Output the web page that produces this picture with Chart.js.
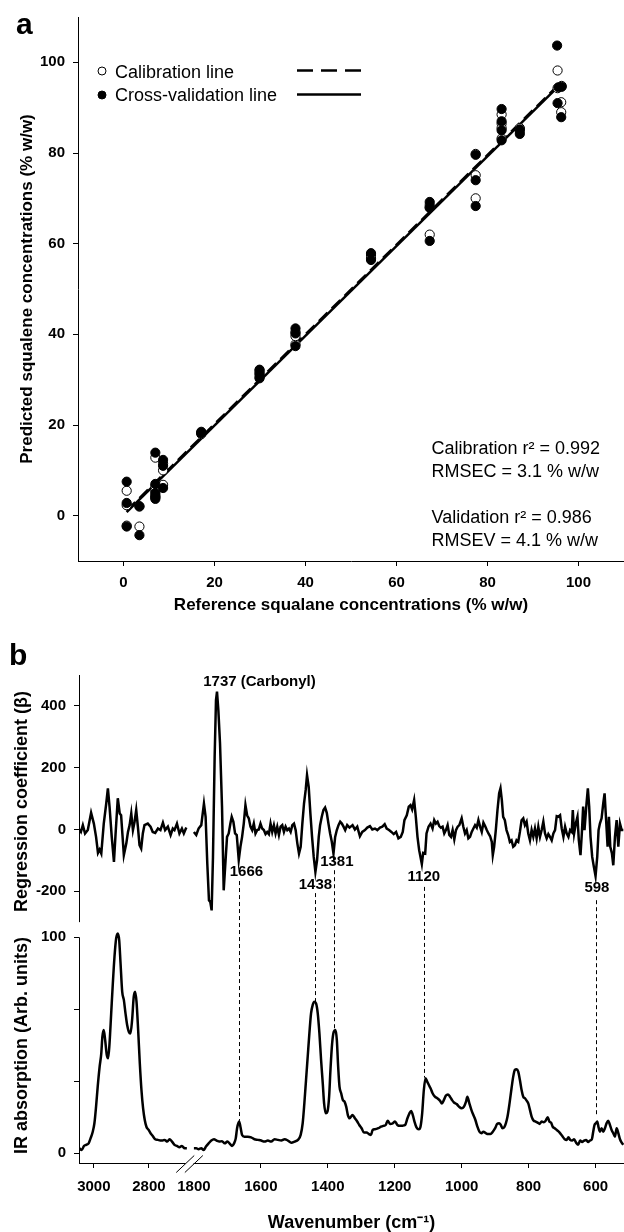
<!DOCTYPE html>
<html>
<head>
<meta charset="utf-8">
<title>Squalene calibration and regression coefficients</title>
<script src="https://cdn.jsdelivr.net/npm/chart.js@4.4.1/dist/chart.umd.min.js"></script>
<style>
  body { margin: 0; background: #fff; }
  canvas { display: block; }
</style>
</head>
<body>
<canvas id="fitChart" width="624" height="630"></canvas>
<canvas id="specChart" width="624" height="602"></canvas>
<script>
// ---- panel a: predicted vs reference squalene (% w/w) ----
const calX = [0.7, 0.7, 0.7, 3.5, 3.5, 7.0, 7.0, 7.0, 7.0, 7.0, 8.7, 8.7, 8.7, 17.1, 17.1, 29.9, 29.9, 29.9, 37.8, 37.8,
              37.8, 54.4, 54.4, 67.3, 67.3, 67.3, 77.4, 77.4, 77.4, 83.1, 83.1, 83.1, 83.1, 87.1, 87.1, 95.4, 96.3, 96.2, 96.2, 95.4];
const calY = [5.5, 2.3, -2.2, -2.4, 2.0, 12.8, 6.5, 5.5, 4.5, 4.0, 11.5, 10.0, 6.8, 18.0, 18.3, 31.5, 30.6, 32.0, 40.5, 37.8,
              39.6, 57.5, 56.8, 68.5, 62.0, 68.0, 79.8, 75.1, 70.0, 88.5, 86.5, 85.5, 83.2, 85.5, 84.8, 98.2, 94.8, 91.2, 89.0, 94.3];
const cvX = [0.7, 0.7, 0.7, 3.5, 3.5, 7.0, 7.0, 7.0, 7.0, 7.0, 8.7, 8.7, 8.7, 17.1, 17.1, 29.9, 29.9, 29.9, 37.8, 37.8,
             37.8, 54.4, 54.4, 67.3, 67.3, 67.3, 77.4, 77.4, 77.4, 83.1, 83.1, 83.1, 83.1, 87.1, 87.1, 95.3, 96.3, 95.4, 96.2, 95.6];
const cvY = [7.5, 2.8, -2.4, -4.3, 2.1, 13.9, 7.0, 5.0, 4.2, 3.7, 12.3, 11.0, 6.1, 18.2, 18.5, 32.2, 30.3, 31.2, 41.3, 37.4,
             40.2, 57.9, 56.4, 69.2, 60.6, 67.9, 79.6, 74.0, 68.3, 89.7, 87.0, 85.0, 82.8, 85.2, 84.2, 103.7, 94.6, 91.0, 87.9, 94.5];
const calLineX = [0.7, 95.8];
const calLineY = [1.1, 95.2];
const cvLineX = [0.7, 95.8];
const cvLineY = [0.8, 94.9];
const fitTicks = [0, 20, 40, 60, 80, 100];
const statText = ['Calibration r\u00B2 = 0.992', 'RMSEC = 3.1 % w/w', 'Validation r\u00B2 = 0.986', 'RMSEV = 4.1 % w/w'];
const statBase = [13.6, 8.6, -1.7, -6.8];   // baselines, in y units

// ---- panel b: regression coefficient (top) and IR spectrum (bottom) ----
const coefLeftWn = [3053, 3047, 3040, 3032, 3022, 3010, 3000, 2992, 2985, 2979,
                    2973, 2964, 2955, 2949, 2943, 2935, 2927, 2921, 2913, 2906,
                    2901, 2891, 2882, 2876, 2870, 2864, 2858, 2852, 2846, 2840,
                    2834, 2828, 2822, 2816, 2804, 2794, 2786, 2777, 2767, 2758,
                    2749, 2741, 2731, 2721, 2713, 2707, 2698, 2689, 2680, 2673, 2664];
const coefLeft = [0, -8, 14, -13, -2, 54, 19, -24, -76, -65,
                  -78, 19, 84, 133, 74, -24, -105, -13, 101, 52,
                  46, -83, -45, -8, 14, 52, -2, 25, 63, 9,
                  -51, -62, -13, 14, 19, 9, -8, -11, 3, -2,
                  22, -2, 9, -18, 3, -2, 19, -13, 3, -13, 6];
const coefRightWn = [1800, 1793, 1786, 1778, 1770, 1765, 1760, 1755, 1751, 1747,
                     1743, 1738, 1734, 1731, 1727, 1722, 1716, 1711, 1706, 1701,
                     1696, 1691, 1687, 1682, 1677, 1672, 1666, 1661, 1656, 1651,
                     1646, 1641, 1636, 1631, 1626, 1621, 1616, 1611, 1606, 1601,
                     1596, 1591, 1586, 1581, 1576, 1571, 1566, 1561, 1556, 1551,
                     1546, 1541, 1536, 1531, 1526, 1521, 1516, 1511, 1506, 1501,
                     1496, 1491, 1486, 1481, 1476, 1471, 1466, 1462, 1457, 1452,
                     1447, 1442, 1437, 1432, 1427, 1423, 1418, 1413, 1408, 1403,
                     1398, 1393, 1388, 1383, 1378, 1373, 1368, 1363, 1358, 1353,
                     1348, 1342, 1335, 1326, 1319, 1312, 1304, 1297, 1289, 1282,
                     1274, 1267, 1259, 1252, 1244, 1237, 1230, 1224, 1217, 1210,
                     1203, 1196, 1189, 1182, 1176, 1171, 1164, 1158, 1153, 1148,
                     1142, 1137, 1132, 1127, 1123, 1119, 1115, 1109, 1105, 1099,
                     1093, 1087, 1082, 1077, 1072, 1067, 1062, 1057, 1052, 1047,
                     1042, 1037, 1032, 1027, 1022, 1017, 1012, 1007, 1000, 995,
                     990, 985, 980, 975, 970, 965, 960, 955, 950, 945,
                     940, 935, 930, 925, 920, 915, 910, 907, 903, 898,
                     893, 888, 884, 880, 876, 871, 866, 861, 856, 851,
                     846, 841, 836, 831, 826, 821, 816, 811, 806, 801,
                     796, 791, 786, 781, 776, 771, 766, 761, 756, 751,
                     746, 741, 736, 731, 726, 721, 716, 711, 706, 701,
                     696, 691, 686, 681, 676, 671, 668, 664, 659, 654,
                     650, 645, 641, 637, 633, 627, 623, 619, 615, 610,
                     605, 600, 595, 591, 587, 582, 577, 573, 569, 564,
                     560, 556, 551, 547, 542, 537, 532, 527, 522, 517];
const coefRight = [-8, -18, 3, 14, 84, 41, -110, -229, -235, -262,
                   -89, 236, 419, 446, 387, 279, 74, -197, -110, -24,
                   -13, 19, 41, 25, -13, -18, -99, -56, -24, 19,
                   79, 46, 36, 9, -2, 19, -13, -2, 0, 19,
                   3, -2, -15, -8, -15, 19, -8, 14, -13, 9,
                   -18, 9, 14, -8, 9, -2, 3, -8, 14, 19,
                   -2, -45, -78, -56, 19, 84, 128, 176, 138, 52,
                   -24, -89, -137, -99, -24, 14, 41, 63, 71, 54,
                   19, -13, -40, -78, -24, -2, 14, 25, 19, 9,
                   -2, 14, 6, 14, 0, 9, -22, -8, -2, 6,
                   11, 0, 3, -2, 6, 9, 17, 3, -2, -8,
                   -15, -8, -29, -24, -8, 30, 46, 74, 79, 65,
                   95, 41, -24, -67, -89, -112, -76, -78, -13, 9,
                   19, 3, 30, 19, 25, 11, 6, 9, -13, -2,
                   14, -18, -24, -2, -32, -2, 9, 14, 36, 9,
                   -13, -2, -29, -24, -8, 3, 14, 6, 30, 9,
                   -8, 22, 11, -2, -13, -22, -40, -83, -56, -2,
                   63, 117, 133, 95, 41, 30, -2, -18, -40, -35,
                   -56, -51, -35, -40, -8, 30, 36, 14, 25, -13,
                   -35, -2, -24, 3, -29, 9, -24, -2, 25, -13,
                   -29, -15, -24, -35, -13, -2, 43, 41, 46, 3,
                   -24, 9, -13, -24, -2, -8, 63, -13, 19, 41,
                   -35, -83, -13, 74, -2, 84, 133, 74, -24, -89,
                   -121, -151, -89, -2, 19, 36, 84, 117, 41, -56,
                   41, -56, -78, -116, -24, 30, -56, 19, -2, -2];
const irLeftWn = [3053, 3044, 3036, 3028, 3019, 3012, 3004, 2998, 2992, 2986,
                  2979, 2973, 2969, 2964, 2959, 2953, 2948, 2943, 2937, 2931,
                  2925, 2919, 2913, 2908, 2903, 2897, 2891, 2885, 2879, 2873,
                  2867, 2861, 2855, 2850, 2845, 2839, 2833, 2827, 2821, 2815,
                  2809, 2801, 2794, 2786, 2777, 2767, 2759, 2750, 2743, 2733,
                  2725, 2716, 2707, 2698, 2689, 2680, 2670, 2662];
const irLeft = [2.3, 1.5, 3.4, 3.9, 4.6, 6.9, 10.0, 13.9, 21.6, 30.9,
                40.1, 46.3, 54.0, 57.1, 52.5, 45.5, 44.0, 50.9, 64.8, 78.7,
                91.0, 99.5, 101.8, 98.8, 88.0, 74.8, 71.0, 64.8, 59.4, 56.3,
                55.5, 61.7, 72.5, 74.8, 70.2, 57.1, 41.7, 29.3, 20.8, 15.4,
                12.3, 10.8, 9.3, 8.0, 6.5, 6.2, 5.9, 5.9, 6.2, 5.4,
                6.5, 5.4, 3.9, 3.4, 2.8, 3.4, 2.3, 2.3];
const irRightWn = [1800, 1793, 1786, 1778, 1771, 1764, 1756, 1748, 1740, 1732,
                   1724, 1716, 1708, 1700, 1692, 1686, 1680, 1675, 1671, 1665,
                   1661, 1656, 1649, 1639, 1629, 1619, 1609, 1599, 1589, 1579,
                   1569, 1559, 1549, 1539, 1529, 1519, 1509, 1499, 1489, 1481,
                   1475, 1470, 1465, 1460, 1455, 1450, 1445, 1440, 1435, 1430,
                   1425, 1420, 1415, 1411, 1406, 1401, 1396, 1392, 1387, 1382,
                   1377, 1373, 1369, 1365, 1360, 1355, 1350, 1345, 1340, 1335,
                   1326, 1319, 1312, 1306, 1299, 1292, 1284, 1277, 1271, 1266,
                   1259, 1249, 1241, 1234, 1227, 1221, 1214, 1206, 1199, 1192,
                   1184, 1176, 1169, 1162, 1156, 1151, 1146, 1141, 1135, 1128,
                   1123, 1118, 1113, 1108, 1103, 1098, 1093, 1087, 1080, 1073,
                   1065, 1059, 1053, 1047, 1041, 1035, 1029, 1023, 1015, 1008,
                   1000, 993, 987, 983, 977, 971, 965, 959, 953, 947,
                   941, 935, 928, 921, 914, 907, 900, 894, 888, 883,
                   878, 873, 868, 863, 857, 851, 846, 841, 836, 831,
                   826, 821, 816, 811, 806, 801, 796, 791, 785, 779,
                   773, 767, 761, 755, 749, 743, 738, 733, 728, 722,
                   716, 710, 704, 698, 692, 686, 681, 676, 670, 664,
                   658, 652, 646, 640, 634, 628, 622, 617, 611, 607,
                   603, 599, 595, 591, 587, 582, 577, 572, 567, 562,
                   557, 552, 547, 542, 537, 532, 527, 522, 517];
const irRight = [2.3, 2.3, 1.9, 2.3, 1.5, 3.1, 4.6, 5.9, 6.5, 5.9,
                 5.4, 5.6, 4.6, 5.4, 4.3, 3.4, 4.6, 6.9, 11.6, 14.7,
                 12.3, 8.5, 7.7, 7.7, 7.4, 6.5, 6.2, 5.9, 5.4, 5.9,
                 5.4, 6.5, 6.2, 5.9, 6.5, 5.9, 4.9, 5.4, 6.2, 8.5,
                 13.9, 23.1, 33.9, 44.7, 55.5, 64.8, 68.7, 70.2, 69.4, 64.8,
                 55.5, 43.2, 32.4, 23.1, 18.5, 19.3, 26.2, 38.6, 50.9, 56.3,
                 57.1, 52.5, 40.1, 30.9, 27.8, 24.7, 23.9, 21.6, 17.7, 16.2,
                 17.7, 16.2, 14.7, 13.1, 11.6, 9.6, 9.6, 8.9, 8.5, 10.8,
                 11.1, 11.6, 12.3, 12.7, 13.1, 15.1, 13.6, 13.9, 14.7, 13.1,
                 12.7, 12.8, 13.1, 16.2, 18.5, 19.6, 17.7, 14.7, 12.0, 11.1,
                 12.3, 18.5, 29.3, 34.7, 33.2, 31.6, 30.1, 27.8, 26.2, 25.5,
                 24.4, 23.1, 24.7, 26.7, 27.2, 26.2, 24.7, 23.5, 22.8, 21.6,
                 20.8, 21.6, 23.9, 26.2, 23.1, 20.1, 17.7, 15.4, 12.3, 10.0,
                 9.3, 10.0, 9.3, 8.9, 8.9, 10.0, 11.6, 13.6, 13.9, 13.1,
                 11.6, 12.0, 13.9, 17.0, 23.1, 30.1, 35.5, 38.6, 38.9, 37.8,
                 33.9, 29.3, 26.2, 25.5, 24.4, 23.1, 20.1, 17.0, 15.1, 14.7,
                 14.2, 13.6, 14.7, 14.4, 15.1, 16.7, 14.7, 14.2, 12.3, 11.6,
                 10.8, 10.0, 8.9, 7.7, 6.5, 6.2, 7.4, 6.2, 5.9, 6.5,
                 4.9, 3.9, 5.9, 5.2, 5.9, 6.2, 5.2, 5.9, 6.5, 10.0,
                 13.1, 13.9, 14.7, 12.0, 10.0, 11.6, 10.0, 11.6, 13.9, 15.1,
                 13.1, 10.8, 9.3, 7.7, 11.6, 9.3, 6.5, 4.9, 3.9];
const wnTicks = [3000, 2800, 1800, 1600, 1400, 1200, 1000, 800, 600];
const coefTicks = [-200, 0, 200, 400];
const irTicks = [0, 33.3, 66.7, 100];
const irTickLabels = ['0', '', '', '100'];
// marked bands: dashed guide from the coefficient dip down to the absorption band
const bandWn = [1666, 1438, 1381, 1113, 598];
const bandTop = [-167, -206, -132, -186, -229];
const bandFoot = [15, 70, 57, 35, 17];
const bandText = ['1737 (Carbonyl)', '1666', '1438', '1381', '1120', '598'];
const bandTextWn = [1604, 1643, 1437, 1373, 1113, 596];
const bandTextCoef = [477, -137, -178, -105, -153, -189];

const FONT = '"Liberation Sans", Arial, Helvetica, sans-serif';
Chart.defaults.font.family = FONT;
Chart.defaults.color = '#000';

function pts(xs, ys) {
    return xs.map(function(x, i) { return {x: x, y: ys[i]} });
}

// the wavenumber axis is broken between 2660 and 1800 cm-1,
// and the 3000-2800 part is drawn a bit narrower than the rest
const leftRef = 2800;
const leftRefAxis = 1934.5;
const leftStretch = 0.822;
function toAxis(w) {
    if (w === null || w === undefined) return w;
    return w > 2000 ? leftRefAxis + (w - leftRef) * leftStretch : w;
}
function fromAxis(u) {
    return u > 1810 ? leftRef + (u - leftRefAxis) / leftStretch : u;
}
class BrokenScale extends Chart.LinearScale {
    static id = 'broken';
    static defaults = Chart.LinearScale.defaults;
    getPixelForValue(v) { return super.getPixelForValue(toAxis(v)); }
    getValueForPixel(p) { return fromAxis(super.getValueForPixel(p)); }
}
Chart.register(BrokenScale);

const tickFont = {family: FONT, size: 15, weight: 'bold'};
const tickGrid = {drawOnChartArea: false, color: '#000', tickColor: '#000', tickLength: 5, lineWidth: 1};

const fitDecor = {
    id: 'fitDecor',
    afterDraw(chart) {
        const ctx = chart.ctx;
        const xs = chart.scales.x, ys = chart.scales.y;
        ctx.save();
        ctx.fillStyle = '#000';
        ctx.strokeStyle = '#000';
        ctx.font = 'bold 30px ' + FONT;
        ctx.textBaseline = 'alphabetic';
        ctx.fillText('a', 16, 34);

        // legend
        ctx.font = '18px ' + FONT;
        const rows = [
            {label: 'Calibration line', filled: false, dash: [16, 8], y: 71, base: 78},
            {label: 'Cross-validation line', filled: true, dash: [], y: 95, base: 101}
        ];
        rows.forEach(function(r) {
            ctx.beginPath();
            ctx.arc(102, r.y, 4, 0, Math.PI * 2);
            ctx.fillStyle = r.filled ? '#000' : '#fff';
            ctx.fill();
            ctx.lineWidth = 1;
            ctx.setLineDash([]);
            ctx.stroke();
            ctx.fillStyle = '#000';
            ctx.fillText(r.label, 115, r.base);
            ctx.beginPath();
            ctx.lineWidth = 2.5;
            ctx.setLineDash(r.dash);
            ctx.moveTo(297, r.y - 0.5);
            ctx.lineTo(361, r.y - 0.5);
            ctx.stroke();
        });
        ctx.setLineDash([]);

        // fit statistics
        const sx = xs.getPixelForValue(67.7);
        statText.forEach(function(t, i) {
            ctx.fillText(t, sx, ys.getPixelForValue(statBase[i]));
        });
        ctx.restore();
    }
};

new Chart(document.getElementById('fitChart'), {
    type: 'scatter',
    data: {
        datasets: [
            {type: 'line', data: pts(cvLineX, cvLineY), borderColor: '#000', borderWidth: 2.5, pointRadius: 0, order: 3},
            {type: 'line', data: pts(calLineX, calLineY), borderColor: '#000', borderWidth: 2.5, borderDash: [12, 6], pointRadius: 0, order: 2},
            {data: pts(calX, calY), pointRadius: 4.6, pointBackgroundColor: '#fff', pointBorderColor: '#000', pointBorderWidth: 1, order: 1},
            {data: pts(cvX, cvY), pointRadius: 4.6, pointBackgroundColor: '#000', pointBorderColor: '#000', pointBorderWidth: 1, order: 0}
        ]
    },
    options: {
        responsive: false,
        animation: false,
        devicePixelRatio: 1,
        events: [],
        layout: {padding: {top: 15, left: 0, right: 0, bottom: 0}, autoPadding: false},
        plugins: {legend: {display: false}, tooltip: {enabled: false}},
        scales: {
            x: {
                type: 'linear', min: -10, max: 110,
                afterBuildTicks: function(s) { s.ticks = fitTicks.map(function(v) { return {value: v} }) },
                afterFit: function(s) { s.height = 69 },
                grid: tickGrid,
                border: {color: '#000', width: 1},
                ticks: {font: tickFont, color: '#000', padding: 8, maxRotation: 0, autoSkip: false},
                title: {display: true, text: 'Reference squalane concentrations (% w/w)', color: '#000',
                        font: {family: FONT, size: 17, weight: 'bold'}, padding: {top: 0, bottom: 14}}
            },
            y: {
                type: 'linear', min: -10, max: 110,
                afterBuildTicks: function(s) { s.ticks = fitTicks.map(function(v) { return {value: v} }) },
                afterFit: function(s) { s.width = 78 },
                grid: tickGrid,
                border: {color: '#000', width: 1},
                ticks: {font: tickFont, color: '#000', padding: 8, autoSkip: false},
                title: {display: true, text: 'Predicted squalene concentrations (% w/w)', color: '#000',
                        font: {family: FONT, size: 17, weight: 'bold'}, padding: {top: 17, bottom: 0}}
            }
        }
    },
    plugins: [fitDecor]
});

const specDecor = {
    id: 'specDecor',
    afterDatasetsDraw(chart) {
        const ctx = chart.ctx;
        const xs = chart.scales.x, yc = chart.scales.yCoef, yi = chart.scales.yIr;
        ctx.save();
        ctx.strokeStyle = '#000';
        ctx.lineWidth = 1;
        ctx.setLineDash([4, 3]);
        bandWn.forEach(function(w, i) {
            const px = Math.round(xs.getPixelForValue(w)) + 0.5;
            ctx.beginPath();
            ctx.moveTo(px, yc.getPixelForValue(bandTop[i]));
            ctx.lineTo(px, yi.getPixelForValue(bandFoot[i]));
            ctx.stroke();
        });
        ctx.setLineDash([]);
        ctx.fillStyle = '#000';
        ctx.font = 'bold 15px ' + FONT;
        ctx.textAlign = 'center';
        ctx.textBaseline = 'middle';
        bandText.forEach(function(t, i) {
            ctx.fillText(t, xs.getPixelForValue(bandTextWn[i]), yc.getPixelForValue(bandTextCoef[i]));
        });
        ctx.restore();
    },
    afterDraw(chart) {
        const ctx = chart.ctx;
        const area = chart.chartArea;
        const xs = chart.scales.x, yc = chart.scales.yCoef, yi = chart.scales.yIr;
        ctx.save();
        ctx.strokeStyle = '#000';
        ctx.lineWidth = 1;
        // two separate y axis lines
        const ax = Math.round(area.left - 0.5) + 0.5;
        ctx.beginPath();
        ctx.moveTo(ax, yc.getPixelForValue(500));
        ctx.lineTo(ax, yc.getPixelForValue(-300));
        ctx.moveTo(ax, yi.getPixelForValue(100));
        ctx.lineTo(ax, area.bottom);
        ctx.stroke();
        // axis break
        const by = Math.round(area.bottom - 0.5) + 0.5;
        const bx = xs.getPixelForValue(1813);
        ctx.fillStyle = '#fff';
        ctx.fillRect(bx - 4, by - 2, 8, 4);
        ctx.beginPath();
        [-4.3, 4.3].forEach(function(dx) {
            ctx.moveTo(bx + dx - 9, by + 9);
            ctx.lineTo(bx + dx + 9, by - 8);
        });
        ctx.stroke();
        ctx.fillStyle = '#000';
        ctx.font = 'bold 30px ' + FONT;
        ctx.fillText('b', 9, 35);
        ctx.restore();
    }
};

const traceStyle = {borderColor: '#000', borderWidth: 2.5, pointRadius: 0, fill: false};

new Chart(document.getElementById('specChart'), {
    type: 'line',
    data: {
        datasets: [
            Object.assign({data: pts(coefLeftWn, coefLeft), yAxisID: 'yCoef', tension: 0}, traceStyle),
            Object.assign({data: pts(coefRightWn, coefRight), yAxisID: 'yCoef', tension: 0}, traceStyle),
            Object.assign({data: pts(irLeftWn, irLeft), yAxisID: 'yIr', cubicInterpolationMode: 'monotone'}, traceStyle),
            Object.assign({data: pts(irRightWn, irRight), yAxisID: 'yIr', cubicInterpolationMode: 'monotone'}, traceStyle)
        ]
    },
    options: {
        responsive: false,
        animation: false,
        devicePixelRatio: 1,
        events: [],
        layout: {padding: {top: 45, left: 0, right: 0, bottom: 0}, autoPadding: false},
        plugins: {legend: {display: false}, tooltip: {enabled: false}},
        scales: {
            x: {
                type: 'broken', reverse: true,
                min: toAxis(515), max: toAxis(3054),
                afterBuildTicks: function(s) { s.ticks = wnTicks.map(function(v) { return {value: v} }) },
                afterFit: function(s) { s.height = 69 },
                grid: {drawOnChartArea: false, tickLength: 5, lineWidth: 1,
                       color: function(c) { return c.tick && c.tick.value === 1800 ? 'rgba(0,0,0,0)' : '#000' },
                       tickColor: function(c) { return c.tick && c.tick.value === 1800 ? 'rgba(0,0,0,0)' : '#000' }},
                border: {color: '#000', width: 1},
                ticks: {font: tickFont, color: '#000', padding: 10, maxRotation: 0, autoSkip: false,
                        callback: function(v, i) { return String(wnTicks[i]) }},
                title: {display: true, text: 'Wavenumber (cm\u207B\u00B9)', color: '#000',
                        font: {family: FONT, size: 18, weight: 'bold', lineHeight: 1}, padding: {top: 0, bottom: 0}}
            },
            // left-side stacked scales are laid out last-first, so the IR scale is listed first
            yIr: {
                type: 'linear', position: 'left', stack: 'panelB', stackWeight: 235,
                min: -4.5, max: 104.3,
                afterBuildTicks: function(s) { s.ticks = irTicks.map(function(v) { return {value: v} }) },
                afterFit: function(s) { s.width = 79 },
                grid: tickGrid,
                border: {display: false},
                ticks: {font: tickFont, color: '#000', padding: 8, autoSkip: false,
                        callback: function(v, i) { return irTickLabels[i] }},
                title: {display: true, text: 'IR absorption (Arb. units)', color: '#000',
                        font: {family: FONT, size: 18, weight: 'bold'}, padding: {top: 11, bottom: 0}}
            },
            yCoef: {
                type: 'linear', position: 'left', stack: 'panelB', stackWeight: 253,
                min: -319, max: 500,
                afterBuildTicks: function(s) { s.ticks = coefTicks.map(function(v) { return {value: v} }) },
                afterFit: function(s) { s.width = 79 },
                grid: tickGrid,
                border: {display: false},
                ticks: {font: tickFont, color: '#000', padding: 8, autoSkip: false},
                title: {display: true, text: 'Regression coefficient (\u03B2)', color: '#000',
                        font: {family: FONT, size: 18, weight: 'bold'}, padding: {top: 11, bottom: 0}}
            }
        }
    },
    plugins: [specDecor]
});
</script>
</body>
</html>
